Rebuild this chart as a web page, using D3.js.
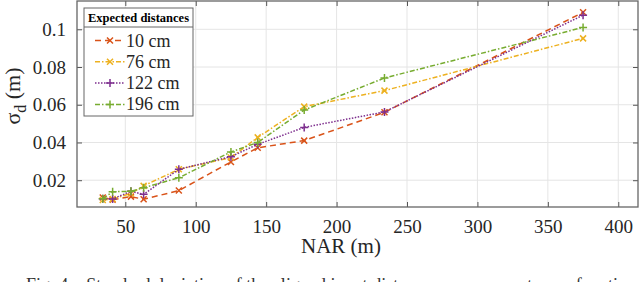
<!DOCTYPE html>
<html><head><meta charset="utf-8">
<script src="https://cdn.jsdelivr.net/npm/d3@7"></script>
<style>body{margin:0;background:#fff}svg{display:block}</style>
</head><body>
<script>
const nar = [34, 41, 54, 63, 88, 125, 144, 177, 234, 375];
const s10  = [0.0108, 0.0097, 0.0113, 0.0099, 0.0145, 0.0297, 0.0372, 0.041, 0.056, 0.109];
const s76  = [0.0095, 0.0100, 0.0130, 0.0170, 0.0258, 0.0320, 0.0427, 0.059, 0.0675, 0.0952];
const s122 = [0.0102, 0.0101, 0.0141, 0.0125, 0.0258, 0.0325, 0.0390, 0.048, 0.0562, 0.1075];
const s196 = [0.0102, 0.0139, 0.0141, 0.0160, 0.0213, 0.0350, 0.0400, 0.0572, 0.0742, 0.1010];
const seriesNames = ["10 cm", "76 cm", "122 cm", "196 cm"];
const xTicks = [50, 100, 150, 200, 250, 300, 350, 400];
const yTicks = [0.02, 0.04, 0.06, 0.08, 0.1];
const colors = ["#D95319", "#EDB120", "#7E2F8E", "#77AC30"];
const dashes = ["6,4", "5,2,1.5,2", "1.5,1.5", "5,2,1.5,2"];
const markers = ["x", "x", "+", "+"];
const allSeries = [s10, s76, s122, s196];

const W = 640, H = 282;
const m = {l: 77, r: 638, t: 1, b: 207};
const svg = d3.select("body").append("svg").attr("width", W).attr("height", H);
const font = "Liberation Serif, Times New Roman, serif";
const x = d3.scaleLinear().domain([15.7, 414]).range([m.l, m.r]);
const y = d3.scaleLinear().domain([0.0058, 0.115]).range([m.b, m.t]);

// grid
svg.append("g").selectAll("line").data(xTicks).join("line")
  .attr("x1", d => x(d)).attr("x2", d => x(d)).attr("y1", m.t).attr("y2", m.b)
  .attr("stroke", "#e5e5e5").attr("stroke-width", 1);
svg.append("g").selectAll("line").data(yTicks).join("line")
  .attr("y1", d => y(d)).attr("y2", d => y(d)).attr("x1", m.l).attr("x2", m.r)
  .attr("stroke", "#e5e5e5").attr("stroke-width", 1);

// axes
const xAxis = d3.axisBottom(x).tickValues(xTicks).tickSizeInner(-5).tickSizeOuter(0).tickPadding(13);
const yAxis = d3.axisLeft(y).tickValues(yTicks).tickFormat(d => d === 0.1 ? "0.1" : d3.format(".2f")(d)).tickSizeInner(-5).tickSizeOuter(0).tickPadding(11);
const gx = svg.append("g").attr("transform", `translate(0,${m.b})`).call(xAxis);
const gy = svg.append("g").attr("transform", `translate(${m.l},0)`).call(yAxis);
const gxt = svg.append("g").attr("transform", `translate(0,${m.t})`).call(d3.axisTop(x).tickValues(xTicks).tickSizeInner(-5).tickSizeOuter(0).tickFormat(""));
const gyr = svg.append("g").attr("transform", `translate(${m.r},0)`).call(d3.axisRight(y).tickValues(yTicks).tickSizeInner(-5).tickSizeOuter(0).tickFormat(""));
[gx, gy, gxt, gyr].forEach(g => {
  g.select(".domain").remove();
  g.selectAll("line").attr("stroke", "#555");
  g.selectAll("text").attr("font-family", font).attr("font-size", 19).attr("fill", "#262626");
});
svg.append("rect").attr("x", m.l).attr("y", m.t).attr("width", m.r - m.l).attr("height", m.b - m.t)
  .attr("fill", "none").attr("stroke", "#666").attr("stroke-width", 1.3);

// lines
const line = d3.line().x((d, i) => x(nar[i])).y(d => y(d));
function marker(g, type, cx, cy, col, s) {
  if (type === "x") {
    g.append("path").attr("d", `M${cx-s},${cy-s}L${cx+s},${cy+s}M${cx-s},${cy+s}L${cx+s},${cy-s}`)
      .attr("stroke", col).attr("stroke-width", 1.5).attr("fill", "none");
  } else {
    g.append("path").attr("d", `M${cx-s-1},${cy}L${cx+s+1},${cy}M${cx},${cy-s-1}L${cx},${cy+s+1}`)
      .attr("stroke", col).attr("stroke-width", 1.5).attr("fill", "none");
  }
}
allSeries.forEach((s, k) => {
  const g = svg.append("g");
  g.append("path").datum(s).attr("d", line).attr("fill", "none")
    .attr("stroke", colors[k]).attr("stroke-width", 1.5).attr("stroke-dasharray", dashes[k]);
  s.forEach((v, i) => marker(g, markers[k], x(nar[i]), y(v), colors[k], 3));
});

// legend
const lg = svg.append("g");
lg.append("rect").attr("x", 84).attr("y", 8).attr("width", 109).attr("height", 108)
  .attr("fill", "#fff").attr("stroke", "#666").attr("stroke-width", 1);
lg.append("line").attr("x1", 84).attr("x2", 193).attr("y1", 27).attr("y2", 27).attr("stroke", "#666");
lg.append("text").attr("x", 138.5).attr("y", 22).attr("text-anchor", "middle")
  .attr("font-family", font).attr("font-weight", "bold").attr("font-size", 12.5).attr("fill", "#000")
  .text("Expected distances");
seriesNames.forEach((n, k) => {
  const yy = 40.5 + k * 21.3;
  lg.append("line").attr("x1", 95).attr("x2", 125).attr("y1", yy).attr("y2", yy)
    .attr("stroke", colors[k]).attr("stroke-width", 1.5).attr("stroke-dasharray", dashes[k]);
  marker(lg, markers[k], 110, yy, colors[k], 3);
  lg.append("text").attr("x", 126).attr("y", yy + 6).attr("font-family", font).attr("font-size", 18)
    .attr("fill", "#262626").text(n);
});

// axis labels
svg.append("text").attr("x", 341).attr("y", 253).attr("text-anchor", "middle")
  .attr("font-family", font).attr("font-size", 21).attr("fill", "#262626").text("NAR (m)");
const yl = svg.append("text").attr("transform", "translate(20,96) rotate(-90)").attr("text-anchor", "middle")
  .attr("font-family", font).attr("font-size", 22).attr("fill", "#262626");
yl.append("tspan").text("σ");
yl.append("tspan").attr("dy", 6).attr("font-size", 16).text("d");
yl.append("tspan").attr("dy", -6).text(" (m)");

// caption (cut off at the bottom of the image)
svg.append("text").attr("x", 26).attr("y", 291).attr("font-family", font).attr("font-size", 18)
  .attr("fill", "#333").attr("xml:space", "preserve")
  .attr("textLength", 610).attr("lengthAdjust", "spacing")
  .text("Fig. 4.   Standard deviation of the aligned input distance measurements as a function");
</script>
</body></html>
